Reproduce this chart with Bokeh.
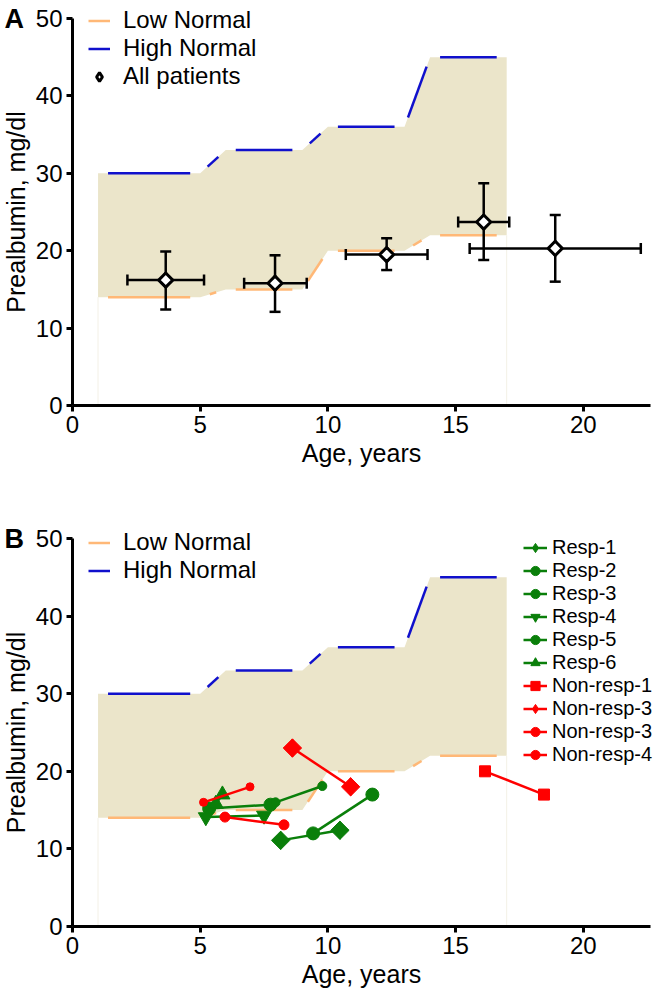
import numpy as np
from bokeh.plotting import figure
from bokeh.layouts import column
from bokeh.models import Legend, LegendItem, Label, FixedTicker, Range1d
from bokeh.embed import file_html
from bokeh.resources import INLINE

# ---------------- data ----------------
age_nodes = [1, 5, 6, 9, 10, 13, 14, 17]
low_normal = [14, 14, 15, 15, 20, 20, 22, 22]
high_normal = [30, 30, 33, 33, 36, 36, 45, 45]

pat_age = [3.65, 7.93, 12.3, 16.1, 18.9]
pat_age_lo = [2.15, 6.72, 10.7, 15.1, 15.55]
pat_age_hi = [5.15, 9.17, 13.9, 17.1, 22.25]
pat_pre = [16.2, 15.8, 19.5, 23.7, 20.3]
pat_pre_lo = [12.4, 12.1, 17.5, 18.8, 16.0]
pat_pre_hi = [19.9, 19.4, 21.6, 28.7, 24.6]

series_names = ["Resp-1", "Resp-2", "Resp-3", "Resp-4", "Resp-5", "Resp-6",
                "Non-resp-1", "Non-resp-3", "Non-resp-3", "Non-resp-4"]
series_age = [
    [8.15, 10.47],
    [9.42, 11.74],
    [5.35, 7.75],
    [5.22, 7.5],
    [7.95, 9.78],
    [5.61, 5.87],
    [16.15, 18.46],
    [8.61, 10.89],
    [5.97, 8.28],
    [5.13, 6.95],
]
series_pre = [
    [11.1, 12.4],
    [12.0, 17.0],
    [15.2, 15.7],
    [14.1, 14.3],
    [16.0, 18.1],
    [15.8, 17.0],
    [20.0, 17.0],
    [23.0, 18.0],
    [14.1, 13.1],
    [16.0, 18.0],
]

# ---------------- styles ----------------
GREEN = "#0A7F0A"
RED = "#FF0000"
ORANGE = "#FFB877"
BLUE = "#1010CC"
FILL = "#EBE5CA"
FONT = "Liberation Sans"

# marker, size, rotated-square?, colour
series_style = [
    ("square", 13, True, GREEN),
    ("circle", 13, False, GREEN),
    ("circle", 13, False, GREEN),
    ("inverted_triangle", 15, False, GREEN),
    ("circle", 9, False, GREEN),
    ("triangle", 15, False, GREEN),
    ("square", 11, False, RED),
    ("square", 13, True, RED),
    ("circle", 10, False, RED),
    ("circle", 8, False, RED),
]

AXW = 578          # px from x=0 to axis end
XMAX = 22.63
LEFT = 72          # px left of x=0 (inside the frame)
RIGHT = 7          # px right of the axis end
TOPPAD = 18        # px above y=50 (inside the frame)
GAP = 10.0
SX = AXW / XMAX


def gapped(xs, ys, sy, gap=GAP):
    x0s, y0s, x1s, y1s = [], [], [], []
    for i in range(len(xs) - 1):
        ddx = xs[i + 1] - xs[i]
        ddy = ys[i + 1] - ys[i]
        L = np.hypot(ddx * SX, ddy * sy)
        t = gap / L
        x0s.append(xs[i] + ddx * t)
        y0s.append(ys[i] + ddy * t)
        x1s.append(xs[i + 1] - ddx * t)
        y1s.append(ys[i + 1] - ddy * t)
    return x0s, y0s, x1s, y1s


def make_fig(axh, bottom, letter):
    sy = axh / 50.0
    p = figure(frame_width=LEFT + AXW + RIGHT, frame_height=TOPPAD + axh + bottom,
               x_range=Range1d(-LEFT / SX, XMAX + RIGHT / SX),
               y_range=Range1d(-bottom / sy, 50 + TOPPAD / sy),
               output_backend="svg", toolbar_location=None,
               min_border_left=0, min_border_right=0,
               min_border_top=0, min_border_bottom=0)
    p.outline_line_color = None
    p.xgrid.visible = False
    p.ygrid.visible = False
    p.yaxis.fixed_location = 0
    p.xaxis.fixed_location = 0
    p.xaxis.bounds = (0, XMAX)
    p.yaxis.bounds = (0, 50)
    for ax in (p.xaxis[0], p.yaxis[0]):
        ax.axis_line_width = 3
        ax.axis_line_color = "black"
        ax.major_tick_line_width = 3
        ax.major_tick_line_color = "black"
        ax.major_tick_out = 6
        ax.major_tick_in = 0
        ax.minor_tick_line_color = None
        ax.major_label_text_font = FONT
        ax.major_label_text_font_size = "24px"
        ax.major_label_text_color = "black"
        ax.axis_label_text_font = FONT
        ax.axis_label_text_font_size = "25px"
        ax.axis_label_text_font_style = "normal"
        ax.axis_label_text_color = "black"
        ax.major_label_standoff = 4
        ax.axis_label_standoff = 3
    p.xaxis.ticker = FixedTicker(ticks=[0, 5, 10, 15, 20])
    p.yaxis.ticker = FixedTicker(ticks=[0, 10, 20, 30, 40, 50])
    p.xaxis.axis_label = "Age, years"
    p.yaxis.axis_label = "Prealbumin, mg/dl"

    p.patch(age_nodes + age_nodes[::-1], high_normal + low_normal[::-1],
            fill_color=FILL, line_color=None)
    p.segment(x0=[age_nodes[0], age_nodes[-1]], y0=[0, 0],
              x1=[age_nodes[0], age_nodes[-1]], y1=[low_normal[0], low_normal[-1]],
              line_color="#F3F1E6", line_width=1)
    lx0, ly0, lx1, ly1 = gapped(age_nodes, low_normal, sy)
    low = p.segment(x0=lx0, y0=ly0, x1=lx1, y1=ly1, line_color=ORANGE, line_width=2.5)
    hx0, hy0, hx1, hy1 = gapped(age_nodes, high_normal, sy)
    high = p.segment(x0=hx0, y0=hy0, x1=hx1, y1=hy1, line_color=BLUE, line_width=2.5)

    p.add_layout(Label(x=-(LEFT - 4) / SX, y=50, text=letter, text_font=FONT,
                       text_font_size="27px", text_font_style="bold",
                       text_baseline="middle", text_align="left", text_color="black"))
    return p, low, high, bottom


def style_legend(leg, size, gw, gh, standoff):
    leg.label_text_font = FONT
    leg.label_text_font_size = size
    leg.label_text_color = "black"
    leg.glyph_width = gw
    leg.glyph_height = gh
    leg.label_height = gh
    leg.spacing = 0
    leg.padding = 0
    leg.margin = 0
    leg.border_line_color = None
    leg.background_fill_alpha = 0
    leg.label_standoff = standoff


# ---------------- panel A ----------------
pA, lowA, highA, botA = make_fig(387, 115, "A")
# error bars
pA.segment(x0=pat_age_lo, y0=pat_pre, x1=pat_age_hi, y1=pat_pre,
           line_color="black", line_width=2.5)
pA.segment(x0=pat_age, y0=pat_pre_lo, x1=pat_age, y1=pat_pre_hi,
           line_color="black", line_width=2.5)
pA.scatter(x=pat_age_lo + pat_age_hi, y=pat_pre + pat_pre, marker="dash",
           angle=np.pi / 2, size=11, line_color="black", line_width=2.5)
pA.scatter(x=pat_age + pat_age, y=pat_pre_lo + pat_pre_hi, marker="dash",
           size=11, line_color="black", line_width=2.5)
# legend-only diamond (hidden beneath the rotated squares)
pts_leg = pA.scatter(x=pat_age, y=pat_pre, marker="diamond", size=14,
                     fill_color="white", line_color="black", line_width=3)
pA.scatter(x=pat_age, y=pat_pre, marker="square", angle=np.pi / 4, size=10,
           fill_color="white", line_color="black", line_width=3)
legA = Legend(items=[LegendItem(label="Low Normal", renderers=[lowA]),
                     LegendItem(label="High Normal", renderers=[highA]),
                     LegendItem(label="All patients", renderers=[pts_leg])],
              location=(LEFT + 16, botA + 315))
style_legend(legA, "24px", 22, 27, 13)
pA.add_layout(legA)

# ---------------- panel B ----------------
pB, lowB, highB, botB = make_fig(388, 62, "B")
items = []
for name, xs, ys, (mk, sz, rot, col) in zip(series_names, series_age, series_pre, series_style):
    lr = pB.line(xs, ys, line_color=col, line_width=2.5)
    if rot:
        sr = pB.scatter(xs, ys, marker="diamond", size=sz + 5,
                        fill_color=col, line_color=col, line_width=1)
        pB.scatter(xs, ys, marker="square", size=sz, angle=np.pi / 4,
                   fill_color=col, line_color=col, line_width=1)
    else:
        sr = pB.scatter(xs, ys, marker=mk, size=sz, fill_color=col,
                        line_color=col, line_width=1)
    items.append(LegendItem(label=name, renderers=[lr, sr]))
legB1 = Legend(items=[LegendItem(label="Low Normal", renderers=[lowB]),
                      LegendItem(label="High Normal", renderers=[highB])],
               location=(LEFT + 16, botB + 342))
style_legend(legB1, "24px", 22, 27, 13)
pB.add_layout(legB1)
legB2 = Legend(items=items, location=(LEFT + 451, botB + 160))
style_legend(legB2, "20px", 24, 23, 5)
pB.add_layout(legB2)

layout = column(pA, pB, spacing=0)
open("out.html", "w").write(file_html(layout, INLINE))
